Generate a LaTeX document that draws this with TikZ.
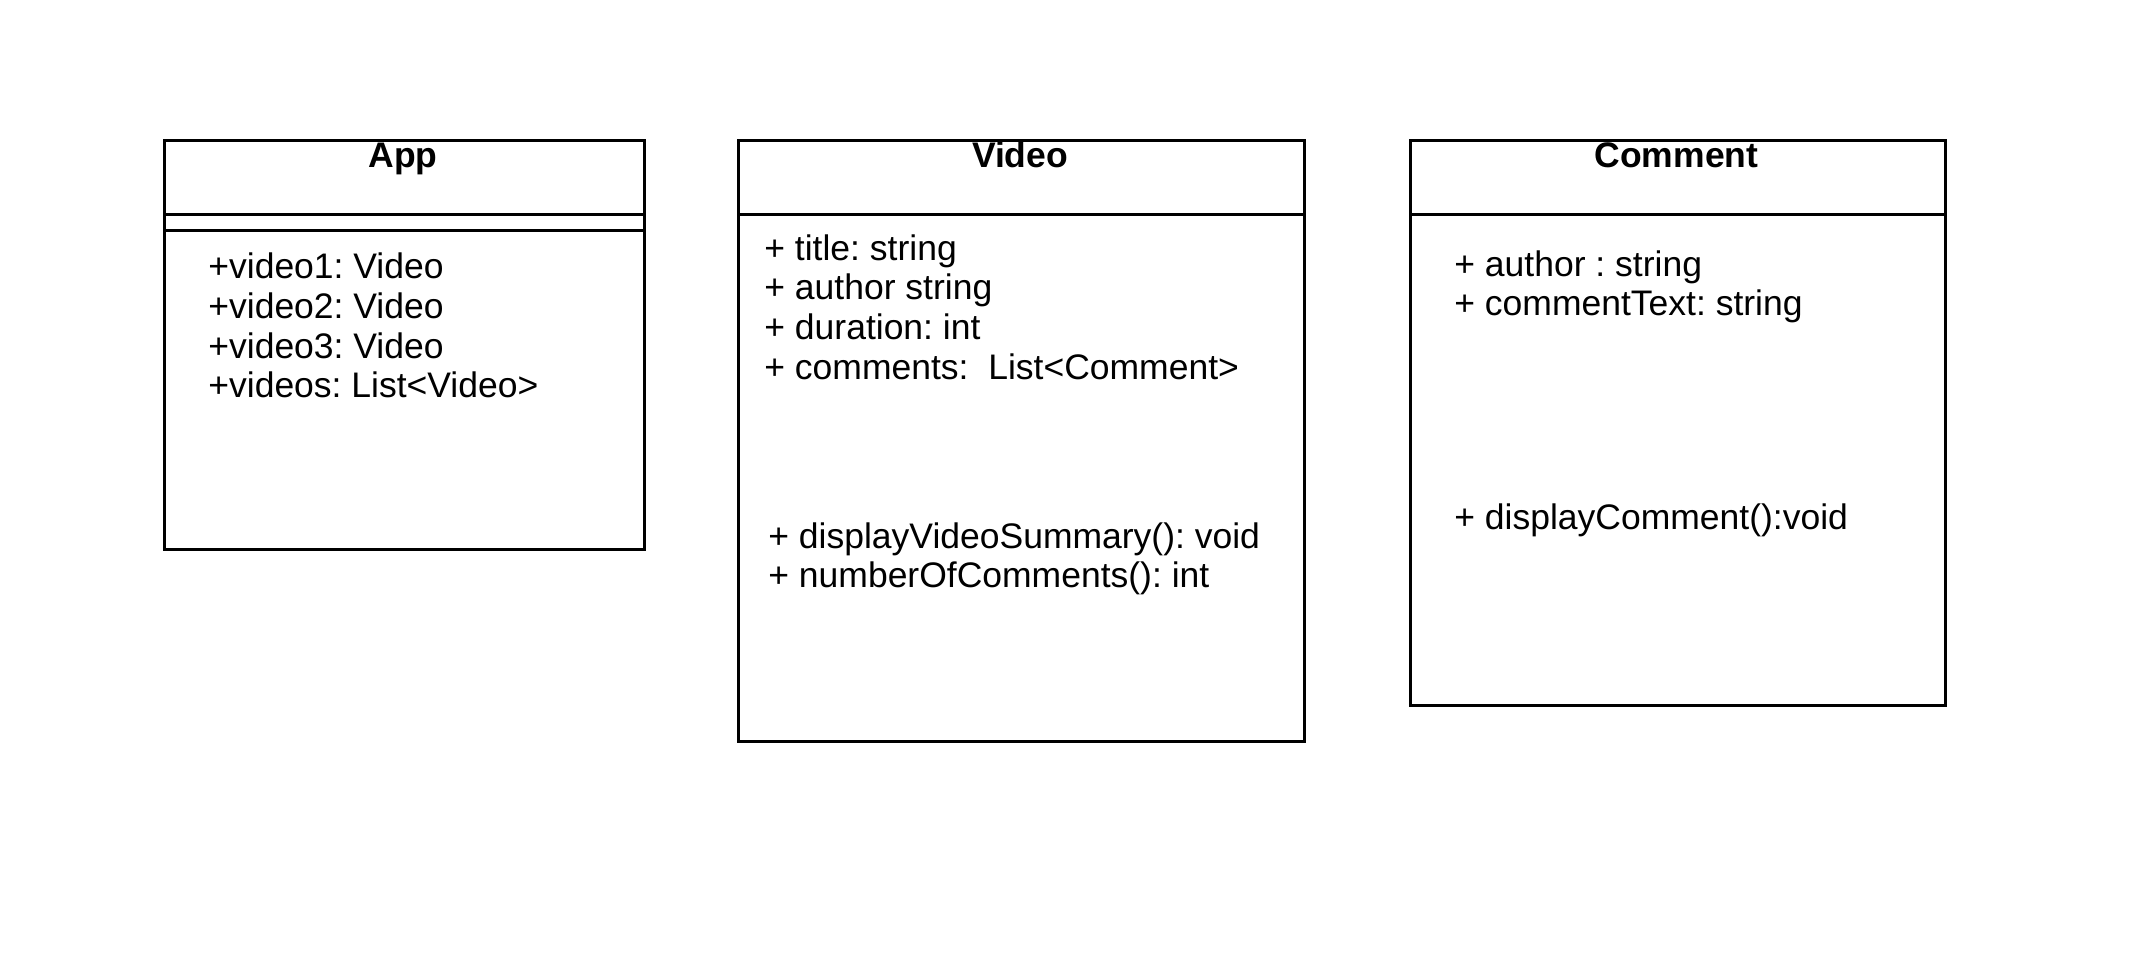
\documentclass[tikz,border=0pt]{standalone}
\usepackage{fontspec}
\setmainfont{Liberation Sans}
\usetikzlibrary{positioning}
\frenchspacing

\begin{document}
\begin{tikzpicture}[x=0.5pt,y=-0.5pt,
  cls/.style={draw,line width=1.5pt,anchor=north west,inner sep=0pt},
  ttl/.style={anchor=base,font=\fontsize{17.75}{19.85}\selectfont\bfseries},
  members/.style={anchor=north west,align=left,inner sep=0pt,
    font=\fontsize{17.75}{19.85}\selectfont\frenchspacing},
  sep/.style={line width=1.5pt}]
  \useasboundingbox (0,0) rectangle (2132,956);
  % App
  \node[cls,minimum width=240pt,minimum height=204.5pt](app) at (163,139) {};
  \node[ttl](apptitle) at (403,168) {App};
  \draw[sep](app.west |- 0,215) -- (app.east |- 0,215);
  \draw[sep](app.west |- 0,231) -- (app.east |- 0,231);
  \node[members](appattr) at (208,252.6)
    {+video1: Video\\+video2: Video\\+video3: Video\\+videos: List<Video>};
  % Video
  \node[cls,minimum width=283pt,minimum height=300.5pt](video) at (737,139) {};
  \node[ttl](videotitle) at (1020,168) {Video};
  \draw[sep](video.west |- 0,215) -- (video.east |- 0,215);
  \node[members](videoattr) at (764,234)
    {+ title: string\\+ author string\\+ duration: int\\+ comments:\ \ List<Comment>};
  \node[members](videoops) at (768,522)
    {+ displayVideoSummary(): void\\+ numberOfComments(): int};
  % Comment
  \node[cls,minimum width=267.5pt,minimum height=282.5pt](comment) at (1409,139) {};
  \node[ttl](commenttitle) at (1676.5,168) {Comment};
  \draw[sep](comment.west |- 0,215) -- (comment.east |- 0,215);
  \node[members](commentattr) at (1454,250)
    {+ author : string\\+ commentText: string};
  \node[members](commentops) at (1454,503) {+ displayComment():void};
\end{tikzpicture}
\end{document}
